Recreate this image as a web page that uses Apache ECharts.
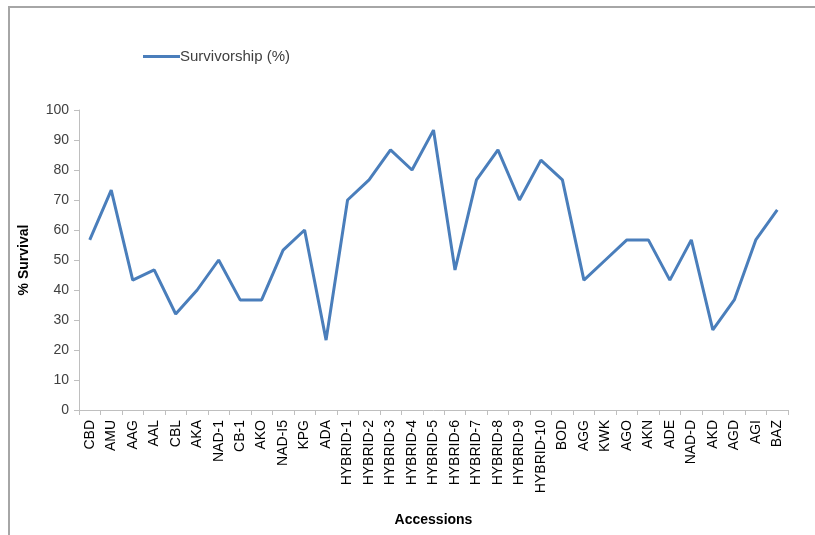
<!DOCTYPE html>
<html>
<head>
<meta charset="utf-8">
<script src="https://cdn.jsdelivr.net/npm/echarts@6/dist/echarts.min.js"></script>
<style>
  html, body { margin: 0; padding: 0; background: #fff; }
  #frame { position: absolute; left: 8px; top: 6px; width: 820px; height: 540px;
           border-top: 2px solid #a6a6a6; border-left: 2px solid #a6a6a6; box-sizing: border-box; }
  #chart { position: absolute; left: 0; top: 0; width: 815px; height: 535px; }
</style>
</head>
<body>
<div id="frame"></div>
<div id="chart"></div>
<script>
const categories = ["CBD","AMU","AAG","AAL","CBL","AKA","NAD-1","CB-1","AKO","NAD-I5","KPG","ADA",
  "HYBRID-1","HYBRID-2","HYBRID-3","HYBRID-4","HYBRID-5","HYBRID-6","HYBRID-7","HYBRID-8","HYBRID-9","HYBRID-10",
  "BOD","AGG","KWK","AGO","AKN","ADE","NAD-D","AKD","AGD","AGI","BAZ"];
const survivorship = [56.7,73.3,43.3,46.7,32,40,50,36.7,36.7,53.3,60,23.3,
  70,76.7,86.7,80,93.3,46.7,76.7,86.7,70,83.3,
  76.7,43.3,50,56.7,56.7,43.3,56.7,26.7,36.7,56.7,66.7];
const seriesName = "Survivorship (%)";
const yTicks = { min: 0, max: 100, interval: 10 };

const chart = echarts.init(document.getElementById('chart'), null, { renderer: 'canvas' });
const font = 'Liberation Sans, Arial, sans-serif';
chart.setOption({
  animation: false,
  backgroundColor: 'transparent',
  textStyle: { fontFamily: font },
  legend: {
    data: [{ name: seriesName, icon: 'rect' }],
    left: 143, top: 49, padding: 0,
    itemWidth: 37, itemHeight: 3, itemGap: 10,
    textStyle: { fontSize: 15, color: '#404040', fontFamily: font, padding: [0,0,0,-5] }
  },
  grid: { left: 79, right: 27, top: 110, bottom: 125, containLabel: false },
  xAxis: {
    type: 'category',
    data: categories,
    boundaryGap: true,
    name: 'Accessions',
    nameLocation: 'middle',
    nameGap: 103,
    nameTextStyle: { fontSize: 14, fontWeight: 'bold', color: '#000', fontFamily: font },
    axisLine: { lineStyle: { color: '#bfbfbf', width: 1 } },
    axisTick: { show: true, length: 5, lineStyle: { color: '#bfbfbf' } },
    axisLabel: { interval: 0, rotate: 90, margin: 10, fontSize: 14, color: '#000', fontFamily: font },
    splitLine: { show: false }
  },
  yAxis: {
    type: 'value',
    min: yTicks.min, max: yTicks.max, interval: yTicks.interval,
    name: '% Survival',
    nameLocation: 'middle',
    nameGap: 48,
    nameRotate: 90,
    nameTextStyle: { fontSize: 14, fontWeight: 'bold', color: '#000', fontFamily: font },
    axisLine: { show: true, lineStyle: { color: '#bfbfbf', width: 1 } },
    axisTick: { show: true, length: 5, lineStyle: { color: '#bfbfbf' } },
    axisLabel: { margin: 10, fontSize: 14, color: '#404040', fontFamily: font },
    splitLine: { show: false }
  },
  series: [{
    name: seriesName,
    type: 'line',
    data: survivorship,
    symbol: 'none',
    lineStyle: { color: '#4a7ebb', width: 3 },
    itemStyle: { color: '#4a7ebb' }
  }]
});
</script>
</body>
</html>
